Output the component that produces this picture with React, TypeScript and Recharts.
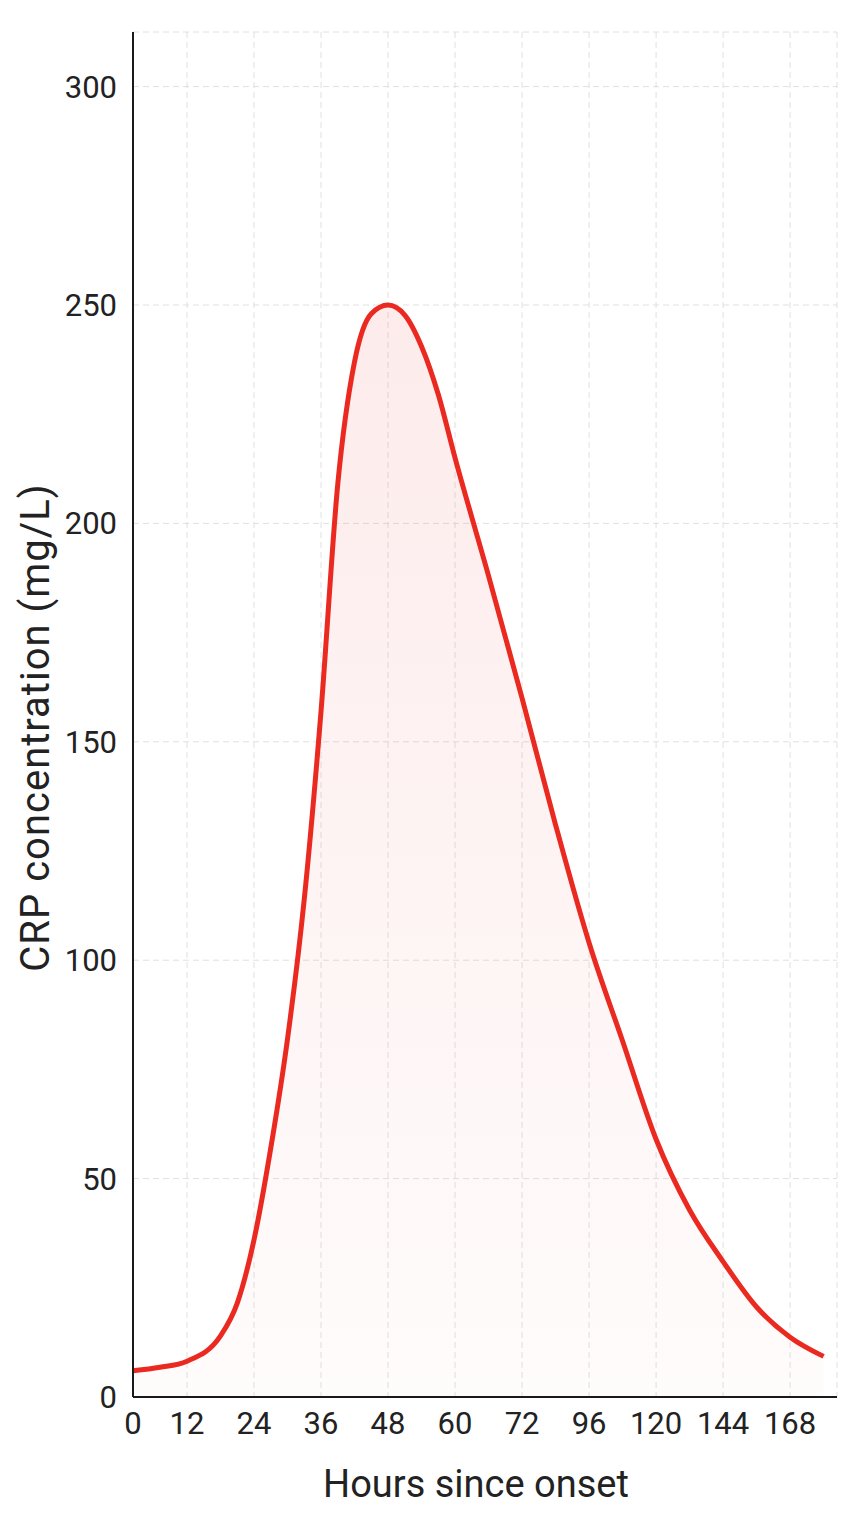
import { Area, CartesianGrid, ComposedChart, Label, XAxis, YAxis } from 'recharts';

// CRP time course
const hours = [
  0, 6, 12, 18, 21, 24, 27, 30, 33, 36, 39, 42, 45, 48, 51, 54, 57, 60, 66, 72,
  84, 96, 108, 120, 132, 144, 156, 168, 180,
];
const crp = [
  6, 6.8, 8.2, 14, 21.5, 36, 57, 82, 114, 157, 209, 237, 248, 250, 247.7, 240.5, 229.5, 215, 188, 160,
  131, 104, 81.5, 59, 42.8, 31, 20.6, 13.7, 9.3,
];

const tickHours = [0, 12, 24, 36, 48, 60, 72, 96, 120, 144, 168];
const yTicks = [0, 50, 100, 150, 200, 250, 300];

// axis is evenly spaced per tick, except the first gap which is shorter
const FIRST_GAP = 0.806;
const tickPos = tickHours.map((_, i) => (i === 0 ? 0 : i - 1 + FIRST_GAP));
const X_MAX = tickPos[tickPos.length - 1] + 0.7;

function hourToPos(h: number) {
  for (let i = 0; i < tickHours.length - 1; i++) {
    if (h <= tickHours[i + 1]) {
      const t = (h - tickHours[i]) / (tickHours[i + 1] - tickHours[i]);
      return tickPos[i] + t * (tickPos[i + 1] - tickPos[i]);
    }
  }
  const n = tickHours.length - 1;
  const step = tickHours[n] - tickHours[n - 1];
  return tickPos[n] + (h - tickHours[n]) / step;
}

const chartData = hours.map((h, i) => ({ pos: hourToPos(h), crp: crp[i] }));

const FONT = 'Roboto, "Liberation Sans", Arial, sans-serif';
const RED = '#ea2a20';

export default function App() {
  return (
    <div style={{ position: 'absolute', left: 0, top: 0, background: '#fff' }}>
      <ComposedChart
        width={864}
        height={1536}
        data={chartData}
        margin={{ top: 32, right: 27, bottom: 39, left: 0 }}
      >
        <defs>
          <linearGradient id="crpFill" x1="0" y1="0" x2="0" y2="1">
            <stop offset="0%" stopColor="#f26a6a" stopOpacity={0.22} />
            <stop offset="100%" stopColor="#f26a6a" stopOpacity={0.04} />
          </linearGradient>
        </defs>
        <CartesianGrid stroke="#e0e0e0" strokeDasharray="6 4" strokeWidth={1} />
        <XAxis
          dataKey="pos"
          type="number"
          domain={[0, X_MAX]}
          ticks={tickPos}
          interval={0}
          tickFormatter={(v: number) => {
            const idx = tickPos.findIndex((p) => Math.abs(p - v) < 1e-6);
            return idx >= 0 ? String(tickHours[idx]) : '';
          }}
          height={100}
          tickLine={false}
          tickSize={6}
          tickMargin={9}
          axisLine={{ stroke: '#1a1a1a', strokeWidth: 2 }}
          tick={{ fill: '#222', fontSize: 31, fontFamily: FONT }}
        >
          <Label
            content={(props: any) => {
              const vb = props.viewBox || {};
              return (
                <text
                  x={vb.x + vb.width / 2 - 9}
                  y={vb.y + 100}
                  textAnchor="middle"
                  fill="#222"
                  fontSize={38}
                  fontFamily={FONT}
                >
                  Hours since onset
                </text>
              );
            }}
          />
        </XAxis>
        <YAxis
          type="number"
          domain={[0, 312.5]}
          ticks={yTicks}
          interval={0}
          width={133}
          tickLine={false}
          tickSize={6}
          tickMargin={10}
          axisLine={{ stroke: '#1a1a1a', strokeWidth: 2 }}
          tick={{ fill: '#222', fontSize: 31, fontFamily: FONT }}
        >
          <Label
            content={(props: any) => {
              const vb = props.viewBox || {};
              const cx = vb.x + 35;
              const cy = vb.y + vb.height / 2 + 13;
              return (
                <text
                  x={cx}
                  y={cy}
                  transform={`rotate(-90 ${cx} ${cy})`}
                  textAnchor="middle"
                  dominantBaseline="central"
                  fill="#222"
                  fontSize={40}
                  letterSpacing={1}
                  fontFamily={FONT}
                >
                  CRP concentration (mg/L)
                </text>
              );
            }}
          />
        </YAxis>
        <Area
          type="monotone"
          dataKey="crp"
          stroke={RED}
          strokeWidth={5}
          fill="url(#crpFill)"
          isAnimationActive={false}
          dot={false}
          activeDot={false}
        />
      </ComposedChart>
    </div>
  );
}
